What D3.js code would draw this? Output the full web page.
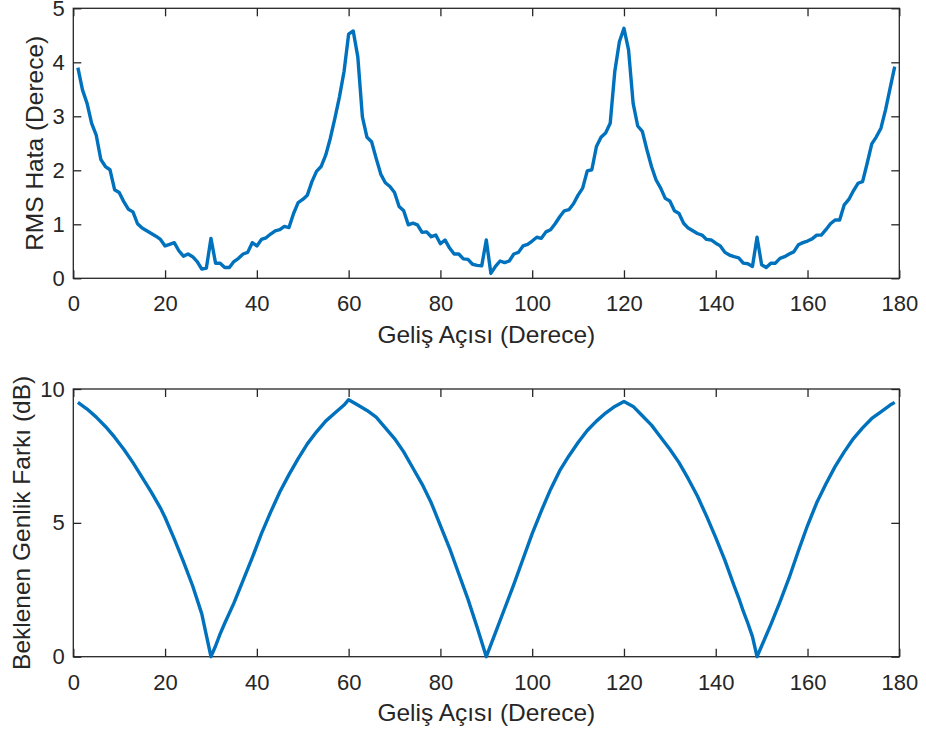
<!DOCTYPE html>
<html>
<head>
<meta charset="utf-8">
<script src="https://cdn.jsdelivr.net/npm/d3@7"></script>
<style>
  body { margin: 0; background: #ffffff; }
  svg text { font-family: "Liberation Sans", Arial, sans-serif; fill: #262626; }
</style>
</head>
<body>
<div id="viz-container"></div>
<script>

// top plot: RMS error vs incidence angle
var rmsAngles = [1, 2, 3, 4, 5, 6, 7, 8, 9, 10, 11, 12, 13, 14, 15, 16, 17, 18, 19, 20,
  21, 22, 23, 24, 25, 26, 27, 28, 29, 30, 31, 32, 33, 34, 35, 36, 37, 38, 39, 40,
  41, 42, 43, 44, 45, 46, 47, 48, 49, 50, 51, 52, 53, 54, 55, 56, 57, 58, 59, 60,
  61, 62, 63, 64, 65, 66, 67, 68, 69, 70, 71, 72, 73, 74, 75, 76, 77, 78, 79, 80,
  81, 82, 83, 84, 85, 86, 87, 88, 89, 90, 91, 92, 93, 94, 95, 96, 97, 98, 99, 100,
  101, 102, 103, 104, 105, 106, 107, 108, 109, 110, 111, 112, 113, 114, 115, 116, 117, 118, 119, 120,
  121, 122, 123, 124, 125, 126, 127, 128, 129, 130, 131, 132, 133, 134, 135, 136, 137, 138, 139, 140,
  141, 142, 143, 144, 145, 146, 147, 148, 149, 150, 151, 152, 153, 154, 155, 156, 157, 158, 159, 160,
  161, 162, 163, 164, 165, 166, 167, 168, 169, 170, 171, 172, 173, 174, 175, 176, 177, 178, 179];

var rmsError = [3.90, 3.49, 3.24, 2.87, 2.65, 2.20, 2.07, 2.01, 1.64, 1.59,
  1.42, 1.28, 1.23, 1.01, 0.93, 0.88, 0.83, 0.78, 0.72, 0.60,
  0.63, 0.66, 0.51, 0.41, 0.45, 0.40, 0.31, 0.17, 0.19, 0.74,
  0.28, 0.28, 0.20, 0.20, 0.31, 0.37, 0.45, 0.48, 0.66, 0.60,
  0.72, 0.75, 0.82, 0.88, 0.90, 0.96, 0.94, 1.20, 1.40, 1.46,
  1.54, 1.79, 1.98, 2.07, 2.28, 2.59, 2.96, 3.36, 3.83, 4.52,
  4.58, 4.10, 2.99, 2.61, 2.53, 2.22, 1.93, 1.77, 1.70, 1.59,
  1.33, 1.25, 0.99, 1.02, 0.99, 0.85, 0.86, 0.77, 0.80, 0.64,
  0.71, 0.56, 0.45, 0.45, 0.36, 0.35, 0.26, 0.24, 0.23, 0.71,
  0.09, 0.22, 0.32, 0.29, 0.32, 0.45, 0.48, 0.60, 0.63, 0.69,
  0.76, 0.74, 0.86, 0.90, 1.01, 1.14, 1.25, 1.27, 1.38, 1.54,
  1.67, 1.99, 2.01, 2.44, 2.61, 2.69, 2.87, 3.83, 4.38, 4.63,
  4.23, 3.24, 2.82, 2.72, 2.38, 2.07, 1.82, 1.67, 1.48, 1.43,
  1.25, 1.20, 1.02, 0.93, 0.88, 0.83, 0.80, 0.72, 0.71, 0.65,
  0.60, 0.48, 0.43, 0.40, 0.38, 0.28, 0.27, 0.22, 0.76, 0.25,
  0.20, 0.28, 0.28, 0.37, 0.40, 0.45, 0.49, 0.62, 0.66, 0.69,
  0.73, 0.80, 0.80, 0.90, 1.01, 1.08, 1.08, 1.36, 1.46, 1.62,
  1.76, 1.79, 2.13, 2.49, 2.62, 2.78, 3.12, 3.52, 3.92];

// bottom plot: expected amplitude difference
var expAngles = [1, 3, 5, 7, 9, 11, 13, 15, 17, 19, 20, 22, 24, 26, 28, 29, 30,
  31, 32, 33, 35, 37, 39, 41, 43, 45, 47, 49, 51, 53, 55, 57, 59, 60,
  62, 64, 66, 68, 70, 72, 74, 76, 78, 80, 82, 84, 86, 88, 90,
  92, 94, 96, 98, 100, 102, 104, 106, 108, 110, 112, 114, 116, 118, 120,
  122, 124, 126, 128, 130, 132, 134, 136, 138, 140, 142, 144, 145, 146, 147, 148, 149,
  150, 152, 154, 156, 158, 160, 162, 164, 166, 168, 170, 172, 174, 176, 178, 179];

var expDiff = [9.50, 9.25, 8.95, 8.60, 8.20, 7.75, 7.25, 6.70, 6.15, 5.55, 5.20, 4.40, 3.55, 2.65, 1.60, 0.80, 0.00,
  0.40, 0.85, 1.25, 2.00, 2.85, 3.70, 4.60, 5.40, 6.15, 6.80, 7.40, 7.95, 8.40, 8.80, 9.10, 9.40, 9.60,
  9.40, 9.20, 8.95, 8.55, 8.15, 7.65, 7.05, 6.45, 5.75, 4.90, 4.05, 3.10, 2.15, 1.10, 0.00,
  0.90, 1.80, 2.70, 3.65, 4.60, 5.45, 6.25, 6.95, 7.50, 8.00, 8.45, 8.80, 9.10, 9.35, 9.53,
  9.35, 9.00, 8.65, 8.20, 7.75, 7.25, 6.65, 6.00, 5.25, 4.45, 3.60, 2.65, 2.20, 1.70, 1.25, 0.75, 0.00,
  0.40, 1.20, 2.05, 2.95, 3.95, 4.90, 5.75, 6.45, 7.10, 7.65, 8.15, 8.55, 8.90, 9.15, 9.40, 9.50];

var xTicks = [0, 20, 40, 60, 80, 100, 120, 140, 160, 180];
var rmsTicks = [0, 1, 2, 3, 4, 5];
var expTicks = [0, 5, 10];

var xLabel = "Geliş Açısı (Derece)";
var rmsLabel = "RMS Hata (Derece)";
var expLabel = "Beklenen Genlik Farkı (dB)";

var width = 926, height = 736;
var axisColor = "#262626";
var lineColor = "#0072BD";

var svg = d3.select('#viz-container')
  .append('svg')
  .attr("width", width)
  .attr("height", height)

var x = d3.scaleLinear()
  .domain([0, 180])
  .range([73.3, 899.3])

var fmt = d3.format("d");

// draws one matlab style panel with box and inward ticks
function drawPanel(top, bottom, yMax, yTicks, angles, values, yLabel, yLabelX) {
  var y = d3.scaleLinear()
    .domain([0, yMax])
    .range([bottom, top])

  var g = svg.append('g')

  g.append('rect')
    .attr("x", x(0))
    .attr("y", top)
    .attr("width", x(180) - x(0))
    .attr("height", bottom - top)
    .style('fill', 'none')
    .style('stroke', axisColor)
    .style('stroke-width', 1.3)

  var bottomAxis = g.append('g')
    .attr("transform", "translate(0," + bottom + ")")
    .call(d3.axisBottom(x).tickValues(xTicks).tickFormat(fmt).tickSizeInner(-8).tickSizeOuter(0).tickPadding(17.5))
  var topAxis = g.append('g')
    .attr("transform", "translate(0," + top + ")")
    .call(d3.axisTop(x).tickValues(xTicks).tickSizeInner(-8).tickSizeOuter(0).tickFormat(""))
  var leftAxis = g.append('g')
    .attr("transform", "translate(" + x(0) + ",0)")
    .call(d3.axisLeft(y).tickValues(yTicks).tickFormat(fmt).tickSizeInner(-8).tickSizeOuter(0).tickPadding(8.5))
  var rightAxis = g.append('g')
    .attr("transform", "translate(" + x(180) + ",0)")
    .call(d3.axisRight(y).tickValues(yTicks).tickSizeInner(-8).tickSizeOuter(0).tickFormat(""))

  ;[bottomAxis, topAxis, leftAxis, rightAxis].forEach(function (a) {
    a.select('.domain').remove()
    a.selectAll('line').style('stroke', axisColor).style('stroke-width', 1.3)
    a.selectAll('text')
      .style('font-size', '22px')
      .style('font-family', '"Liberation Sans", Arial, sans-serif')
      .style('fill', axisColor)
  })

  var line = d3.line()
    .x(function (d, i) { return x(angles[i]); })
    .y(function (d) { return y(d); })

  g.append('path')
    .datum(values)
    .attr("d", line)
    .style('fill', 'none')
    .style('stroke', lineColor)
    .style('stroke-width', 3.4)
    .style('stroke-linejoin', 'round')

  g.append('text')
    .text(xLabel)
    .attr("text-anchor", "middle")
    .style('font-size', '24.5px')
    .attr("transform", "translate(" + ((x(0) + x(180)) / 2) + ", " + (bottom + 64.5) + ")")

  g.append('text')
    .text(yLabel)
    .attr("text-anchor", "middle")
    .style('font-size', '24.5px')
    .attr("transform", "translate(" + yLabelX + ", " + ((top + bottom) / 2) + ") rotate(-90)")
}

drawPanel(8.3, 278.3, 5, rmsTicks, rmsAngles, rmsError, rmsLabel, 43);
drawPanel(389, 656.7, 10, expTicks, expAngles, expDiff, expLabel, 30);

</script>
</body>
</html>
